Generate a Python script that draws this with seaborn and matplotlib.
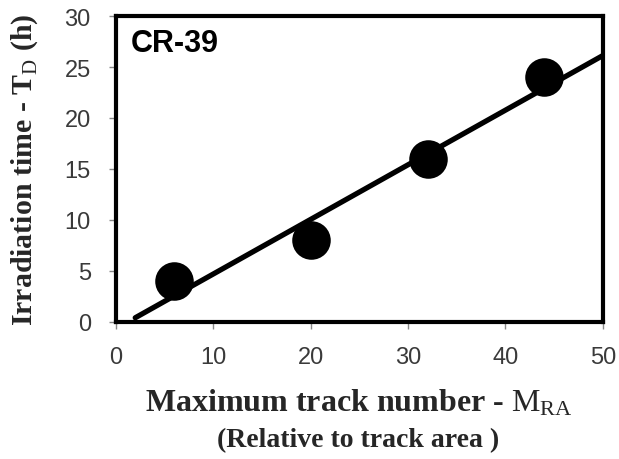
import numpy as np
import pandas as pd
import matplotlib
matplotlib.use("Agg")
import matplotlib.pyplot as plt
import seaborn as sns

# measured points
track_number = [6, 20, 32, 44]
irradiation_time = [4, 8, 16, 24]
# range of the fitted line
fit_x = [2, 50]

x_ticks = [0, 10, 20, 30, 40, 50]
y_ticks = [0, 5, 10, 15, 20, 25, 30]

df = pd.DataFrame({"M": track_number, "T": irradiation_time})

# linear fit through the points
slope, intercept = np.polyfit(df["M"], df["T"], 1)
df_fit = pd.DataFrame({"M": fit_x})
df_fit["T"] = slope * df_fit["M"] + intercept

sns.set_style("ticks")
plt.rcParams["font.family"] = ["Liberation Sans", "DejaVu Sans"]
plt.rcParams["mathtext.fontset"] = "custom"
plt.rcParams["mathtext.rm"] = "Liberation Serif"
plt.rcParams["mathtext.bf"] = "Liberation Serif:bold"

fig = plt.figure(figsize=(6.19, 4.6), dpi=100)
ax = fig.add_axes([0.187, 0.298, 0.787, 0.665])

sns.lineplot(data=df_fit, x="M", y="T", color="black", linewidth=3.8, ax=ax)
sns.scatterplot(data=df, x="M", y="T", color="black", s=660, edgecolor="black",
                zorder=3, ax=ax)

ax.set_xlim(0, 50)
ax.set_ylim(0, 30)
ax.set_xticks(x_ticks)
ax.set_yticks(y_ticks)
ax.tick_params(axis="both", direction="out", length=5, width=1, color="#888888",
               labelsize=17, labelcolor="#3a3a3a")
ax.tick_params(axis="x", pad=12)
ax.tick_params(axis="y", pad=13)

for side in ["left", "right", "top", "bottom"]:
    ax.spines[side].set_visible(True)
    ax.spines[side].set_linewidth(3)
    ax.spines[side].set_color("black")

ax.text(0.03, 0.96, "CR-39", transform=ax.transAxes, ha="left", va="top",
        fontsize=22, fontweight="bold", color="black")

ax.set_ylabel(r"Irradiation time - $\mathbf{T}_\mathrm{D}$ (h)", family="Liberation Serif",
              fontsize=21.5, fontweight="bold", labelpad=18)
ax.set_xlabel(r"Maximum track number - $\mathrm{M_{RA}}$", family="Liberation Serif",
              fontsize=23, fontweight="bold", labelpad=14)
fig.text(0.578, 0.043, "(Relative to track area )", family="Liberation Serif",
         fontsize=20, fontweight="bold", ha="center", va="center")

fig.savefig("out.png", dpi=100)
